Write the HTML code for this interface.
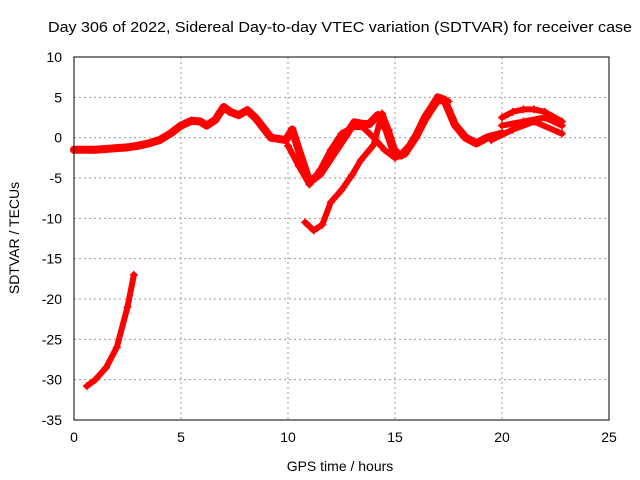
<!DOCTYPE html>
<html><head><meta charset="utf-8">
<style>
body{margin:0;background:#fff;}
svg{display:block;font-family:"Liberation Sans",sans-serif;}
</style></head>
<body>
<svg id="chart" width="640" height="480">
<rect width="640" height="480" fill="#fff"/>
<text x="48" y="32" font-size="15" textLength="584" lengthAdjust="spacingAndGlyphs">Day 306 of 2022, Sidereal Day-to-day VTEC variation (SDTVAR) for receiver case</text>
<text x="340" y="471" font-size="14" text-anchor="middle">GPS time / hours</text>
<text transform="translate(19,238) rotate(-90)" font-size="14" text-anchor="middle">SDTVAR / TECUs</text>
<g id="grid"></g><g id="ticks"></g><g id="series"></g>
<rect x="74" y="57" width="535" height="363" fill="none" stroke="#000"/>
</svg>
<script>
const xTicks=[0,5,10,15,20,25];
const yTicks=[10,5,0,-5,-10,-15,-20,-25,-30,-35];
const trackMainX=[0,1,2,2.5,3,3.5,4,4.5,5,5.5,5.9,6.2,6.6,7,7.3,7.7,8.1,8.5,9.2,9.9,10.2,10.5,11,11.5,12,12.5,12.7,13.1,13.5,13.8,14.2,14.6,15,15.3,15.7,16,16.4,16.7,17,17.3,17.8,18.3,18.8,19.3,20];
const trackMainY=[-1.5,-1.5,-1.3,-1.2,-1,-0.7,-0.3,0.5,1.5,2.1,2,1.5,2.2,3.8,3.2,2.8,3.4,2.4,0,-0.3,1,-1.5,-5.5,-4.5,-2.5,-0.5,0.3,1.9,1.7,1.7,2.8,1,-2.2,-2.2,-1,0.3,2.5,3.7,5,4.7,1.6,0,-0.7,0,0.5];
const track2X=[10,10.5,11,11.5,12,12.5,13,13.5,14,14.5,15,15.5,16,16.5,17,17.5];
const track2Y=[-1,-3.5,-5.8,-4,-1.5,0.5,1.3,1.3,0,-1.5,-2.5,-2,0,2.5,4.5,4.5];
const track3X=[10.8,11.2,11.6,12,12.5,13,13.4,14,14.4,14.7,15,15.3];
const track3Y=[-10.5,-11.5,-10.8,-8,-6.5,-4.6,-2.8,-0.9,3,1,-1.5,-2.2];
const track4X=[20,20.5,21,21.5,22,22.8];
const track4Y=[2.5,3.2,3.5,3.5,3.2,2];
const track5X=[19.5,20.5,21.5,22.8];
const track5Y=[-0.3,1,2,0.5];
const track6X=[20,21,22,22.8];
const track6Y=[1.5,2,2.5,1.5];
const track7X=[0.6,1,1.5,2,2.5,2.8];
const track7Y=[-30.8,-30,-28.5,-26,-21,-17];
const tracks=[[trackMainX,trackMainY],[track2X,track2Y],[track3X,track3Y],[track4X,track4Y],[track5X,track5Y],[track6X,track6Y],[track7X,track7Y]];
const NS="http://www.w3.org/2000/svg";
const X=v=>74+v*(535/25), Y=v=>57+(10-v)*(363/45);
function mk(t,a,p){const e=document.createElementNS(NS,t);for(const k in a)e.setAttribute(k,a[k]);p.appendChild(e);return e;}
const grid=document.getElementById('grid'),ticks=document.getElementById('ticks'),ser=document.getElementById('series');
xTicks.forEach(v=>{const x=X(v);
 if(v>0&&v<25){const g=mk('line',{x1:x,x2:x,y1:57,y2:420,stroke:'#999','stroke-dasharray':'2,3','stroke-width':1},grid);
 }
 const t=mk('text',{x:x,y:442,'font-size':14,'text-anchor':'middle'},ticks);t.textContent=v;
 });
yTicks.forEach(v=>{const y=Y(v);
 if(v<10&&v>-35){const g=mk('line',{x1:74,x2:609,y1:y,y2:y,stroke:'#999','stroke-dasharray':'2,3','stroke-width':1},grid);
 }
 const t=mk('text',{x:62,y:y+5,'font-size':14,'text-anchor':'end'},ticks);t.textContent=v;
 });
tracks.forEach(([xs,ys],i)=>{
 const pts=xs.map((x,j)=>X(x)+','+Y(ys[j])).join(' ');
 const pl=mk('polyline',{points:pts,fill:'none',stroke:'#f00','stroke-width':i===0?8:6,'stroke-linejoin':'round','stroke-linecap':'round'},ser);
 
 
 xs.forEach((x,j)=>{const cx=X(x),cy=Y(ys[j]);
  const m=mk('path',{d:`M${cx-4},${cy}h8M${cx},${cy-4}v8`,stroke:'#f00','stroke-width':1.5},ser);
  
  });
});
</script>
</body></html>
